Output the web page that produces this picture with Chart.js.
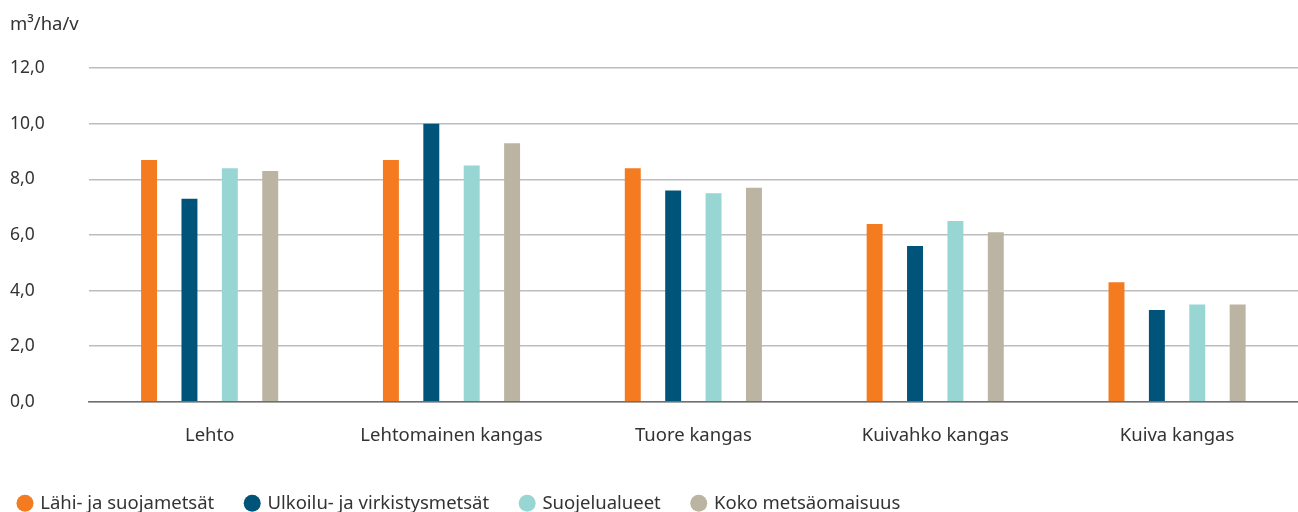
<!DOCTYPE html>
<html>
<head>
<meta charset="utf-8">
<script src="https://cdn.jsdelivr.net/npm/chart.js@4"></script>
<style>
  html, body { margin: 0; padding: 0; background: #fff; }
  #wrap { width: 1298px; height: 512px; position: relative; }
</style>
</head>
<body>
<div id="wrap"><canvas id="myChart"></canvas></div>
<script>
// kasvupaikat
const categories = ["Lehto", "Lehtomainen kangas", "Tuore kangas", "Kuivahko kangas", "Kuiva kangas"];

// kasvu m3/ha/v
const lahiJaSuoja = [8.7, 8.7, 8.4, 6.4, 4.3];
const ulkoiluJaVirkistys = [7.3, 10.0, 7.6, 5.6, 3.3];
const suojelualueet = [8.4, 8.5, 7.5, 6.5, 3.5];
const kokoMetsaomaisuus = [8.3, 9.3, 7.7, 6.1, 3.5];

const yTicks = [0, 2, 4, 6, 8, 10, 12];

const textColor = '#333333';
const fontFamily = '"Noto Sans", sans-serif';

// fixed legend height, left edge closer to the axis labels
const legendNudge = {
  id: 'legendNudge',
  beforeLayout(chart) {
    const lg = chart.legend;
    if (lg && !lg._nudged) {
      const fit = lg.fit.bind(lg);
      lg.fit = function () { fit(); this.height = 50; };
      lg._nudged = true;
    }
  },
  afterLayout(chart) {
    chart.legend.left -= 23;
  }
};

const initChart = function () {
  var ctx = document.getElementById('myChart').getContext('2d');
  var chart = new Chart(ctx, {
    type: 'bar',
    data: {
      labels: categories,
      datasets: [
        { label: "Lähi- ja suojametsät", backgroundColor: '#f47b20', data: lahiJaSuoja },
        { label: "Ulkoilu- ja virkistysmetsät", backgroundColor: '#00547a', data: ulkoiluJaVirkistys },
        { label: "Suojelualueet", backgroundColor: '#98d6d3', data: suojelualueet },
        { label: "Koko metsäomaisuus", backgroundColor: '#bcb4a3', data: kokoMetsaomaisuus }
      ]
    },
    options: {
      responsive: true,
      maintainAspectRatio: false,
      animation: false,
      categoryPercentage: 0.668,
      barPercentage: 0.395,
      layout: { padding: { left: 10, right: -6, top: 14, bottom: 0 } },
      plugins: {
        title: {
          display: true,
          text: 'm³/ha/v',
          align: 'start',
          color: textColor,
          font: { family: fontFamily, size: 18.5, weight: 'normal' },
          padding: { top: 0, bottom: 32 }
        },
        legend: {
          position: 'bottom',
          align: 'start',
          labels: {
            usePointStyle: true,
            pointStyle: 'circle',
            boxWidth: 12,
            boxHeight: 12,
            padding: 32,
            color: textColor,
            font: { family: fontFamily, size: 18.5 }
          }
        },
        tooltip: { enabled: false }
      },
      scales: {
        x: {
          grid: { display: false },
          border: { display: true, color: '#6f6f6f', width: 1.5 },
          ticks: {
            color: textColor,
            padding: 15,
            font: { family: fontFamily, size: 18.5 }
          }
        },
        y: {
          min: 0,
          max: 12,
          afterBuildTicks: function (axis) {
            axis.ticks = yTicks.map(function (v) { return { value: v }; });
          },
          grid: { color: '#bdbdbd', lineWidth: 1.5, drawTicks: false },
          border: { display: false },
          ticks: {
            color: textColor,
            crossAlign: 'far',
            padding: 22,
            font: { family: fontFamily, size: 17.5 },
            callback: function (v) { return Number(v).toFixed(1).replace('.', ','); }
          }
        }
      }
    },
    plugins: [legendNudge]
  });
};

initChart();
</script>
</body>
</html>
